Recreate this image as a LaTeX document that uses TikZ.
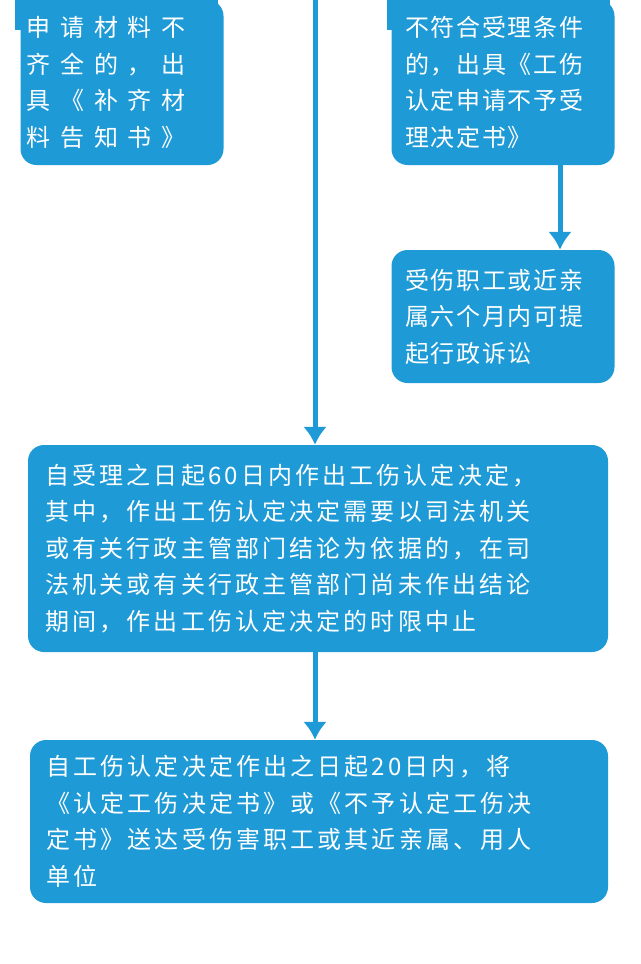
\documentclass[tikz,border=0pt]{standalone}
\usepackage{fontspec}
\setmainfont{Noto Sans CJK SC}
\newfontfamily\widecjk[LetterSpace=40]{Noto Sans CJK SC}
\newfontfamily\midcjk[LetterSpace=7]{Noto Sans CJK SC}
\newfontfamily\longcjk[LetterSpace=13]{Noto Sans CJK SC}
\usetikzlibrary{positioning, arrows.meta}
\definecolor{flowblue}{HTML}{1E9AD6}
\begin{document}
\begin{tikzpicture}[x=1pt, y=-1pt]

% Set the overall style of the boxes and arrows
\tikzset{box/.style={rectangle, rounded corners=16pt, fill=flowblue, text=white,
    align=left, inner sep=0pt, font=\fontsize{24}{36.5}\selectfont}}
\tikzset{flow/.style={draw=flowblue, line width=5pt, -{Latex[length=18pt, width=24pt]}}}

\useasboundingbox (0,0) rectangle (640,964);
\clip (0,0) rectangle (640,964);

% Boxes
\fill[flowblue] (15,-5) rectangle (218,30);
\fill[flowblue] (387,-5) rectangle (610,30);
\node[box, minimum width=203pt, minimum height=165pt, text width=190pt] (material) at (122,82.5)
    {\widecjk 申请材料不\\齐全的，出\\具《补齐材\\料告知书》};
\node[box, minimum width=223pt, minimum height=165pt, text width=196pt] (reject) at (503,82.5)
    {\midcjk 不符合受理条件\\的，出具《工伤\\认定申请不予受\\理决定书》};
\node[box, minimum width=223pt, minimum height=133pt, text width=196pt] (lawsuit) at (503,316.5)
    {\midcjk 受伤职工或近亲\\属六个月内可提\\起行政诉讼};
\node[box, minimum width=580pt, minimum height=207pt, text width=545pt] (decide) at (318,548.5)
    {\longcjk 自受理之日起60日内作出工伤认定决定，\\其中，作出工伤认定决定需要以司法机关\\或有关行政主管部门结论为依据的，在司\\法机关或有关行政主管部门尚未作出结论\\期间，作出工伤认定决定的时限中止};
\node[box, minimum width=578pt, minimum height=163pt, text width=545pt] (deliver) at (319,821.5)
    {\longcjk 自工伤认定决定作出之日起20日内，将\\《认定工伤决定书》或《不予认定工伤决\\定书》送达受伤害职工或其近亲属、用人\\单位};

% Arrows
\coordinate (top) at (315,-5);
\draw[flow] (top) -- (decide.north -| top);
\draw[flow] (reject.south -| 560,0) -- (lawsuit.north -| 560,0);
\draw[flow] (decide.south -| top) -- (deliver.north -| top);

\end{tikzpicture}
\end{document}
